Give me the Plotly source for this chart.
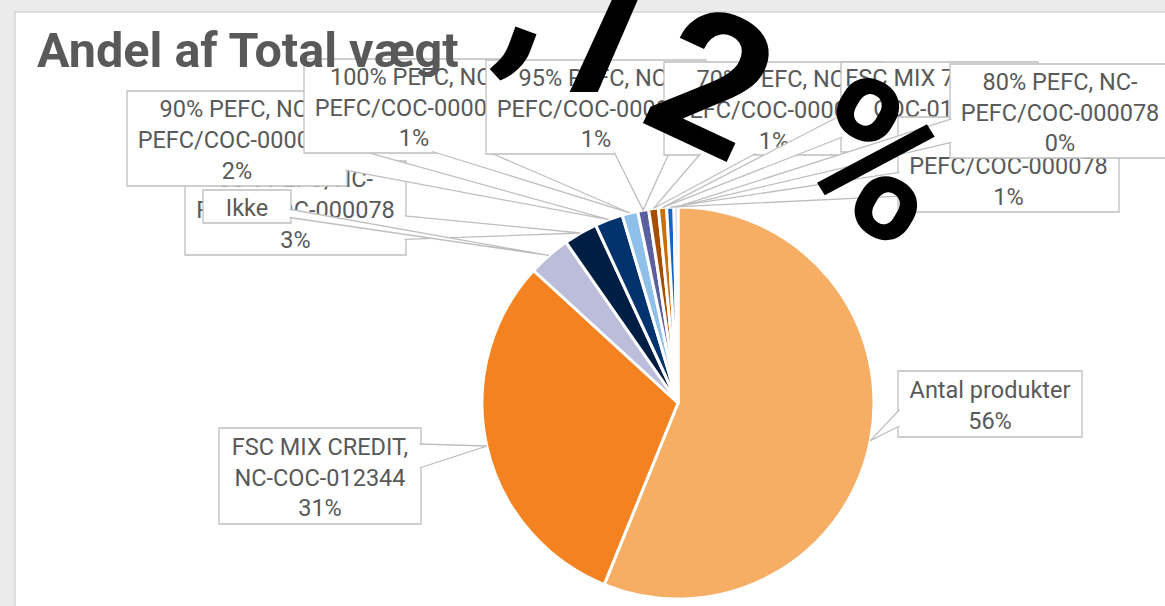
import math
import plotly.graph_objects as go

W, H = 1165, 606

# ---------------- data ----------------
categories = [
    "Antal produkter",
    "FSC MIX CREDIT, NC-COC-012344",
    "Ikke",
    "85% PEFC, NC-PEFC/COC-000078",
    "90% PEFC, NC-PEFC/COC-000078",
    "100% PEFC, NC-PEFC/COC-000078",
    "95% PEFC, NC-PEFC/COC-000078",
    "70% PEFC, NC-PEFC/COC-000078",
    "FSC MIX 70%, NC-COC-012344",
    "75% PEFC, NC-PEFC/COC-000078",
    "80% PEFC, NC-PEFC/COC-000078",
]
values = [56.2, 30.7, 3.5, 2.8, 2.3, 1.3, 0.9, 0.8, 0.67, 0.6, 0.33]
label_lines = [
    ["Antal produkter"],
    ["FSC MIX CREDIT,", "NC-COC-012344"],
    ["Ikke"],
    ["85% PEFC, NC-", "PEFC/COC-000078"],
    ["90% PEFC, NC-", "PEFC/COC-000078"],
    ["100% PEFC, NC-", "PEFC/COC-000078"],
    ["95% PEFC, NC-", "PEFC/COC-000078"],
    ["70% PEFC, NC-", "PEFC/COC-000078"],
    ["FSC MIX 70%, NC-", "COC-012344"],
    ["75% PEFC, NC-", "PEFC/COC-000078"],
    ["80% PEFC, NC-", "PEFC/COC-000078"],
]
show_pct = [True, True, False, True, True, True, True, True, True, True, True]
title_text = "Andel af Total vægt"
big_chars = ["0", ",", "7", "2", "%"]

# ---------------- styles / layout ----------------
colors = ["#F5AE63", "#F48220", "#BBBDDA", "#001E44", "#00336E", "#8EC0EA",
          "#5A5F9E", "#A64D00", "#CC6E0A", "#1565C8", "#B4C8E8"]
# label boxes in pixels (x0, y0, x1, y1), y downwards
box_px = [
    (898, 371, 1082, 437),
    (219, 428, 421, 524),
    (203, 190, 291, 223),
    (185, 161, 406, 255),
    (127, 91, 347, 186),
    (304, 59, 524, 153),
    (486, 60, 706, 154),
    (664, 62, 884, 155),
    (841, 62, 1038, 152),
    (898, 117, 1119, 212),
    (950, 64, 1170, 158),
]
draw_order = [0, 1, 3, 2, 4, 5, 6, 7, 8, 9, 10]
BIG = 190
big_pos = [(450, -70), (539, -10), (603, 27), (711, 83), (875, 161)]
big_ang = [15, 20, 0, 25, 30]

CX, CY, R = 678, 403, 196
TXT = "#595959"
BORDER = "#BFBFBF"


def px(x):
    return x / W


def py(y):
    return 1 - y / H


fig = go.Figure()
fig.add_trace(go.Pie(
    labels=categories, values=values, sort=False, direction="clockwise", rotation=0,
    marker=dict(colors=colors, line=dict(color="white", width=3)),
    textinfo="none", hoverinfo="label+percent", showlegend=False,
    domain=dict(x=[px(CX - R), px(CX + R)], y=[py(CY + R), py(CY - R)]),
))

shapes = []
# white chart panel on grey page
shapes.append(dict(type="rect", xref="paper", yref="paper", layer="below",
                   x0=px(15), x1=px(W + 20), y0=py(12), y1=py(H + 20),
                   fillcolor="white", line=dict(color="#D6D6D6", width=1.5)))

total = sum(values)
cum = 0.0
tips = []
for v in values:
    mid = (cum + v / 2) / total * 2 * math.pi
    tips.append((CX + R * math.sin(mid), CY - R * math.cos(mid)))
    cum += v


def wedge(box, tip):
    x0, y0, x1, y1 = box
    w, h = x1 - x0, y1 - y0
    bx, by = (x0 + x1) / 2, (y0 + y1) / 2
    dx, dy = tip[0] - bx, tip[1] - by
    if abs(dy) * w > abs(dx) * h:
        ey = y0 if dy < 0 else y1
        f = (7 / 12, 10 / 12) if dx > 0 else (2 / 12, 5 / 12)
        ins = 1.5 if dy < 0 else -1.5
        return (x0 + w * f[0], ey + ins), (x0 + w * f[1], ey + ins)
    ex = x0 if dx < 0 else x1
    f = (7 / 12, 10 / 12) if dy > 0 else (2 / 12, 5 / 12)
    ins = 1.5 if dx < 0 else -1.5
    return (ex + ins, y0 + h * f[0]), (ex + ins, y0 + h * f[1])


for i in draw_order:
    x0, y0, x1, y1 = box_px[i]
    lines = list(label_lines[i])
    if show_pct[i]:
        lines.append(f"{round(values[i] / total * 100)}%")
    shapes.append(dict(type="rect", xref="paper", yref="paper", layer="above",
                       x0=px(x0), x1=px(x1), y0=py(y1), y1=py(y0),
                       fillcolor="white", line=dict(color=BORDER, width=1.3),
                       label=dict(text="<br>".join(lines), textposition="middle center",
                                  font=dict(family="Roboto", size=23.5, color=TXT))))
    A, B = wedge(box_px[i], tips[i])
    T = tips[i]
    fill_path = f"M{px(A[0])},{py(A[1])} L{px(T[0])},{py(T[1])} L{px(B[0])},{py(B[1])} Z"
    line_path = f"M{px(A[0])},{py(A[1])} L{px(T[0])},{py(T[1])} L{px(B[0])},{py(B[1])}"
    shapes.append(dict(type="path", xref="paper", yref="paper", layer="above",
                       path=fill_path, fillcolor="white", line=dict(width=0)))
    shapes.append(dict(type="path", xref="paper", yref="paper", layer="above",
                       path=line_path, line=dict(color=BORDER, width=1.3)))

annotations = [dict(text=title_text, xref="paper", yref="paper", x=px(35), y=py(51),
                    xanchor="left", yanchor="middle", showarrow=False,
                    font=dict(family="Roboto", size=48.5, color=TXT, weight="bold"))]
for ch, (bx, by), ang in zip(big_chars, big_pos, big_ang):
    annotations.append(dict(text=ch, xref="paper", yref="paper", x=px(bx), y=py(by),
                            xanchor="center", yanchor="middle", showarrow=False, textangle=ang,
                            font=dict(family="Roboto", size=BIG, color="black", weight="bold")))

fig.update_layout(
    width=W, height=H, autosize=False,
    margin=dict(l=0, r=0, t=0, b=0, pad=0),
    paper_bgcolor="#EBEBEB", plot_bgcolor="#EBEBEB",
    shapes=shapes, annotations=annotations,
)

fig.write_html("out.html", config={"displayModeBar": False},
               post_script="document.body.style.margin='0';document.body.style.overflow='hidden';")
